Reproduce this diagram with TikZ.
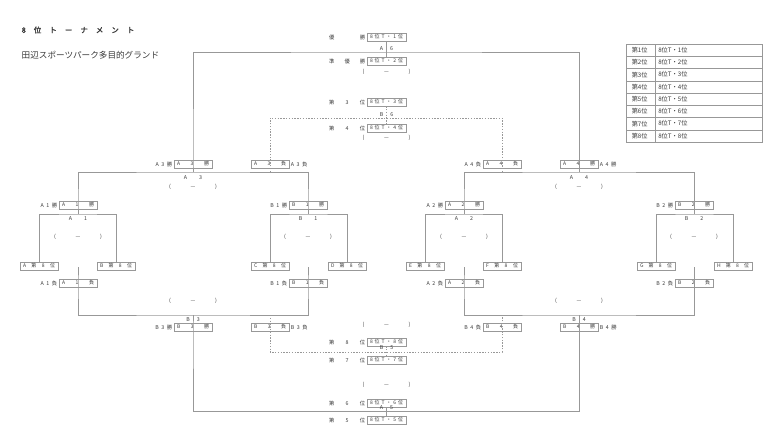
\documentclass[tikz,border=0pt]{standalone}
\usepackage{fontspec}
\newfontfamily\jp{Noto Sans CJK JP}
\newfontfamily\jpb[FakeBold=1.8]{Noto Sans CJK JP}
\definecolor{lc}{HTML}{989898}
\definecolor{tc}{HTML}{3A3A3A}
\newcommand\myiii[3]{\makebox[32pt]{#1\hfill #2\hfill #3}}
\newcommand\myiv[4]{\makebox[32pt]{#1\hfill #2\hfill #3\hfill #4}}
\newcommand\myvi[6]{\makebox[33pt]{#1\hfill #2\hfill #3\hfill #4\hfill #5\hfill #6}}
\newcommand\rkl[3]{\makebox[36pt]{#1\hfill #2\hfill #3}}
\newcommand\scr{\makebox[48pt]{(\hfill —\hfill )}}
\begin{document}
\begin{tikzpicture}[x=1pt,y=-1pt,
  ln/.style={draw=lc,line width=0.6pt},
  dl/.style={draw=lc,line width=0.6pt,dash pattern=on 1.4pt off 1.4pt},
  bx/.style={draw=lc,line width=0.5pt,minimum width=38.5pt,minimum height=8pt,inner xsep=2pt,inner ysep=0pt,font=\jp\fontsize{5}{5}\selectfont,text=tc},
  lb/.style={inner sep=0pt,font=\jp\fontsize{5.3}{6}\selectfont,text=tc},
  every label/.style={lb},
  label distance=1.2pt,
  cell/.style={draw=lc,line width=0.5pt,minimum height=12.25pt,inner sep=0pt,font=\jp\fontsize{6.2}{7}\selectfont,text=tc,anchor=west}
]
\useasboundingbox (0,0) rectangle (775,437);

% title
\node[anchor=west,inner sep=0pt,font=\jpb\fontsize{7.5}{8}\selectfont,text=tc] (title) at (21.5,30)
  {8\hspace{8pt}位\hspace{8pt}ト\hspace{8pt}ー\hspace{8pt}ナ\hspace{8pt}メ\hspace{8pt}ン\hspace{8pt}ト};
\node[anchor=west,inner sep=0pt,font=\jp\fontsize{8.6}{9}\selectfont,text=tc] (venue) at (21.5,55)
  {田辺スポーツパーク多目的グランド};

% ranking table
\foreach \i in {1,...,8}{
  \node[cell] (ra\i) at (626,{44+12.25*(\i-0.5)}) {\makebox[29pt][l]{\hspace{5.5pt}第\i 位}};
  \node[cell] (rb\i) at (655,{44+12.25*(\i-0.5)}) {\makebox[107pt][l]{\hspace{3pt}8位T・\i 位}};
}

% team boxes
\node[bx] (tA) at (39,266) {\myiv{A}{第}{8}{位}};
\node[bx] (tB) at (116,266) {\myiv{B}{第}{8}{位}};
\node[bx] (tC) at (270,266) {\myiv{C}{第}{8}{位}};
\node[bx] (tD) at (347,266) {\myiv{D}{第}{8}{位}};
\node[bx] (tE) at (425,266) {\myiv{E}{第}{8}{位}};
\node[bx] (tF) at (502,266) {\myiv{F}{第}{8}{位}};
\node[bx] (tG) at (656,266) {\myiv{G}{第}{8}{位}};
\node[bx] (tH) at (733,266) {\myiv{H}{第}{8}{位}};

% first round winners / losers
\node[bx,label={left:{A\hspace{2.5pt}1\hspace{2.5pt}勝}}] (A1w) at (78,205) {\myiii{A}{1}{勝}};
\node[bx,label={left:{B\hspace{2.5pt}1\hspace{2.5pt}勝}}] (B1w) at (308,205) {\myiii{B}{1}{勝}};
\node[bx,label={left:{A\hspace{2.5pt}2\hspace{2.5pt}勝}}] (A2w) at (464,205) {\myiii{A}{2}{勝}};
\node[bx,label={left:{B\hspace{2.5pt}2\hspace{2.5pt}勝}}] (B2w) at (694,205) {\myiii{B}{2}{勝}};
\node[bx,label={left:{A\hspace{2.5pt}1\hspace{2.5pt}負}}] (A1l) at (78,283) {\myiii{A}{1}{負}};
\node[bx,label={left:{B\hspace{2.5pt}1\hspace{2.5pt}負}}] (B1l) at (308,283) {\myiii{B}{1}{負}};
\node[bx,label={left:{A\hspace{2.5pt}2\hspace{2.5pt}負}}] (A2l) at (464,283) {\myiii{A}{2}{負}};
\node[bx,label={left:{B\hspace{2.5pt}2\hspace{2.5pt}負}}] (B2l) at (694,283) {\myiii{B}{2}{負}};

% semi-final winners / losers
\node[bx,label={left:{A\hspace{2.5pt}3\hspace{2.5pt}勝}}] (A3w) at (193,164) {\myiii{A}{3}{勝}};
\node[bx,label={right:{A\hspace{2.5pt}3\hspace{2.5pt}負}}] (A3l) at (270,164) {\myiii{A}{3}{負}};
\node[bx,label={left:{A\hspace{2.5pt}4\hspace{2.5pt}負}}] (A4l) at (502,164) {\myiii{A}{4}{負}};
\node[bx,label={right:{A\hspace{2.5pt}4\hspace{2.5pt}勝}}] (A4w) at (579,164) {\myiii{A}{4}{勝}};
\node[bx,label={left:{B\hspace{2.5pt}3\hspace{2.5pt}勝}}] (B3w) at (193,327) {\myiii{B}{3}{勝}};
\node[bx,label={right:{B\hspace{2.5pt}3\hspace{2.5pt}負}}] (B3l) at (270,327) {\myiii{B}{3}{負}};
\node[bx,label={left:{B\hspace{2.5pt}4\hspace{2.5pt}負}}] (B4l) at (502,327) {\myiii{B}{4}{負}};
\node[bx,label={right:{B\hspace{2.5pt}4\hspace{2.5pt}勝}}] (B4w) at (579,327) {\myiii{B}{4}{勝}};

% final placings
\node[bx] (P1) at (386.5,37) {\myvi{8}{位}{T}{・}{1}{位}};
\node[bx] (P2) at (386.5,61) {\myvi{8}{位}{T}{・}{2}{位}};
\node[bx] (P3) at (386.5,102) {\myvi{8}{位}{T}{・}{3}{位}};
\node[bx] (P4) at (386.5,128) {\myvi{8}{位}{T}{・}{4}{位}};
\node[bx] (P8) at (386.5,342) {\myvi{8}{位}{T}{・}{8}{位}};
\node[bx] (P7) at (386.5,360) {\myvi{8}{位}{T}{・}{7}{位}};
\node[bx] (P6) at (386.5,403) {\myvi{8}{位}{T}{・}{6}{位}};
\node[bx] (P5) at (386.5,420) {\myvi{8}{位}{T}{・}{5}{位}};
\node[lb,anchor=west] (R1) at (329,37) {\rkl{優}{}{勝}};
\node[lb,anchor=west] (R2) at (329,61) {\rkl{準}{優}{勝}};
\node[lb,anchor=west] (R3) at (329,102) {\rkl{第}{3}{位}};
\node[lb,anchor=west] (R4) at (329,128) {\rkl{第}{4}{位}};
\node[lb,anchor=west] (R8) at (329,342) {\rkl{第}{8}{位}};
\node[lb,anchor=west] (R7) at (329,360) {\rkl{第}{7}{位}};
\node[lb,anchor=west] (R6) at (329,403) {\rkl{第}{6}{位}};
\node[lb,anchor=west] (R5) at (329,420) {\rkl{第}{5}{位}};

% match labels
\node[lb] (mA1) at (78,219) {A\hspace{12pt}1};
\node[lb] (mB1) at (308,219) {B\hspace{12pt}1};
\node[lb] (mA2) at (464,219) {A\hspace{12pt}2};
\node[lb] (mB2) at (694,219) {B\hspace{12pt}2};
\node[lb] (mA3) at (193,177.5) {A\hspace{12pt}3};
\node[lb] (mA4) at (579,177.5) {A\hspace{12pt}4};
\node[lb] (mB3) at (193,319.5) {B\hspace{7pt}3};
\node[lb] (mB4) at (579,319.5) {B\hspace{7pt}4};
\node[lb] (mF) at (386.5,48.5) {A\hspace{7pt}6};
\node[lb] (mT) at (386.5,114.5) {B\hspace{7pt}6};
\node[lb] (mS) at (386.5,348) {B\hspace{7pt}5};
\node[lb] (mG) at (386.5,407.5) {A\hspace{7pt}5};

% score placeholders
\node[lb] (sA1) at (78,236.5) {\scr};
\node[lb] (sB1) at (308,236.5) {\scr};
\node[lb] (sA2) at (464,236.5) {\scr};
\node[lb] (sB2) at (694,236.5) {\scr};
\node[lb] (sA3) at (193,187) {\scr};
\node[lb] (sA4) at (579,187) {\scr};
\node[lb] (sB3) at (193,301) {\scr};
\node[lb] (sB4) at (579,301) {\scr};
\node[lb] (sF) at (386.5,72) {\scr};
\node[lb] (sT) at (386.5,138) {\scr};
\node[lb] (sS) at (386.5,325) {\scr};
\node[lb] (sG) at (386.5,385) {\scr};

% junction coordinates
\coordinate (A1h) at (78,214);
\coordinate (B1h) at (308,214);
\coordinate (A2h) at (464,214);
\coordinate (B2h) at (694,214);
\coordinate (A3h) at (193,172);
\coordinate (A4h) at (579,172);
\coordinate (A3lb) at (270,172);
\coordinate (A4lb) at (502,172);
\coordinate (A1t) at (78,267);
\coordinate (B1t) at (308,267);
\coordinate (A2t) at (464,267);
\coordinate (B2t) at (694,267);
\coordinate (B3h) at (193,315);
\coordinate (B4h) at (579,315);
\coordinate (B3lt) at (270,315);
\coordinate (B4lt) at (502,315);
\coordinate (Fh) at (386.5,52);
\coordinate (Th) at (386.5,118);
\coordinate (Sh) at (386.5,352);
\coordinate (Gh) at (386.5,411.5);

% winners' bracket
\draw[ln] (tA.north) |- (A1h) -| (tB.north);
\draw[ln] (tC.north) |- (B1h) -| (tD.north);
\draw[ln] (tE.north) |- (A2h) -| (tF.north);
\draw[ln] (tG.north) |- (B2h) -| (tH.north);
\draw[ln] (A1h) -- (A1w.center) |- (A3h) -| (B1w.center) -- (B1h);
\draw[ln] (A2h) -- (A2w.center) |- (A4h) -| (B2w.center) -- (B2h);
\draw[ln] (A3h) -- (A3w.center) |- (Fh) -| (A4w.center) -- (A4h);
\draw[ln] (P1.south) -- (P2.north);
% third place
\draw[dl] (A3lb) -- (A3l.center) |- (Th) -| (A4l.center) -- (A4lb);
\draw[dl] (P3.south) -- (P4.north);
% losers' bracket
\draw[ln] (A1t) -- (A1l.center) |- (B3h) -| (B1l.center) -- (B1t);
\draw[ln] (A2t) -- (A2l.center) |- (B4h) -| (B2l.center) -- (B2t);
\draw[ln] (B3h) -- (B3w.center) |- (Gh) -| (B4w.center) -- (B4h);
\draw[ln] (P6.south) -- (P5.north);
\draw[dl] (B3lt) -- (B3l.center) |- (Sh) -| (B4l.center) -- (B4lt);
\draw[dl] (P8.south) -- (P7.north);
\end{tikzpicture}
\end{document}
